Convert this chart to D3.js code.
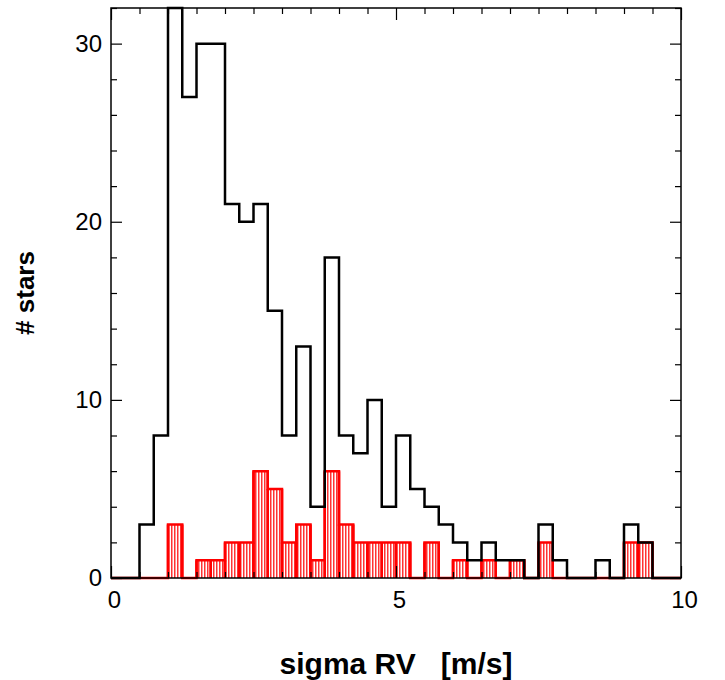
<!DOCTYPE html>
<html>
<head>
<meta charset="utf-8">
<script src="https://cdn.jsdelivr.net/npm/d3@7"></script>
<style>
  body { margin: 0; background: #fff; }
  text { font-family: "Liberation Sans", Arial, Helvetica, sans-serif; }
</style>
</head>
<body>
<script>
// bins of 0.25 m/s from 0 to 10
const binWidth = 0.25;
const binStarts = d3.range(0, 10, binWidth);
// all stars (black outline)
const allStars = [0,0,3,8,32,27,30,30,21,20,21,15,8,13,4,18,8,7,10,4,
                  8,5,4,3,2,1,2,1,1,0,3,1,0,0,1,0,3,2,0,0];
// sub-sample (red, hatched)
const subStars = [0,0,0,0,3,0,1,1,2,2,6,5,2,3,1,6,3,2,2,2,
                  2,0,2,0,1,0,1,0,1,0,2,0,0,0,0,0,2,2,0,0];
const xMajor = [0, 5, 10];
const yMajor = [0, 10, 20, 30];

const width = 725, height = 680;
const margin = {top: 8, right: 44, bottom: 102, left: 111};

const svg = d3.select("body").append("svg")
    .attr("width", width)
    .attr("height", height);

const x = d3.scaleLinear().domain([0, 10]).range([margin.left, width - margin.right]);
const y = d3.scaleLinear().domain([0, 32]).range([height - margin.bottom, margin.top]);

// hatch for red bars
const defs = svg.append("defs");
defs.append("pattern")
    .attr("id", "hatch")
    .attr("patternUnits", "userSpaceOnUse")
    .attr("width", 3)
    .attr("height", 10)
  .append("rect")
    .attr("width", 1.5)
    .attr("height", 10)
    .attr("fill", "#ff0000")
    .attr("opacity", 0.8);

// step line through the bins
function stepPath(vals) {
  const pts = [];
  vals.forEach((v, i) => {
    pts.push([x(binStarts[i]), y(v)]);
    pts.push([x(binStarts[i] + binWidth), y(v)]);
  });
  return d3.line()(pts);
}

const redBars = subStars.map((v, i) => ({x0: binStarts[i], v})).filter(d => d.v > 0);

// red filled bars
svg.append("g")
  .selectAll("rect")
  .data(redBars)
  .join("rect")
    .attr("x", d => x(d.x0))
    .attr("y", d => y(d.v))
    .attr("width", x(binWidth) - x(0))
    .attr("height", d => y(0) - y(d.v))
    .attr("fill", "url(#hatch)");

svg.append("path")
    .attr("d", stepPath(subStars))
    .attr("fill", "none")
    .attr("stroke", "#ff0000")
    .attr("stroke-width", 2.5);

// vertical edges of red bars down to zero
svg.append("g")
  .selectAll("path")
  .data(redBars)
  .join("path")
    .attr("d", d => `M${x(d.x0)},${y(0)}V${y(d.v)}M${x(d.x0 + binWidth)},${y(0)}V${y(d.v)}`)
    .attr("stroke", "#ff0000")
    .attr("stroke-width", 2.5)
    .attr("fill", "none");

svg.append("path")
    .attr("d", stepPath(allStars))
    .attr("fill", "none")
    .attr("stroke", "#000")
    .attr("stroke-width", 2.5);

// frame and ticks on all four sides, pointing inward
const xMinor = d3.range(0, 10.01, 0.5).filter(v => !xMajor.includes(v));
const yMinor = d3.range(0, 32.01, 2).filter(v => !yMajor.includes(v));

function addAxis(axis, transform) {
  const g = svg.append("g").attr("transform", transform).call(axis);
  g.select(".domain").remove();
  g.selectAll("line").attr("stroke", "#000").attr("stroke-width", 1.2);
  return g;
}

const bottomY = y(0), topY = y(32), leftX = x(0), rightX = x(10);

addAxis(d3.axisBottom(x).tickValues(xMinor).tickSize(-6).tickFormat(""), `translate(0,${bottomY})`);
addAxis(d3.axisTop(x).tickValues(xMinor).tickSize(-6).tickFormat(""), `translate(0,${topY})`);
addAxis(d3.axisTop(x).tickValues(xMajor).tickSize(-12).tickFormat(""), `translate(0,${topY})`);
const xAx = addAxis(d3.axisBottom(x).tickValues(xMajor).tickSize(-12).tickPadding(13).tickFormat(d3.format("d")),
    `translate(0,${bottomY})`);
xAx.selectAll("text").attr("font-size", 24).attr("fill", "#000").attr("dx", 3)
    .attr("font-family", "'Liberation Sans', Arial, Helvetica, sans-serif");

addAxis(d3.axisLeft(y).tickValues(yMinor).tickSize(-6).tickFormat(""), `translate(${leftX},0)`);
addAxis(d3.axisRight(y).tickValues(yMinor).tickSize(-6).tickFormat(""), `translate(${rightX},0)`);
addAxis(d3.axisRight(y).tickValues(yMajor).tickSize(-11).tickFormat(""), `translate(${rightX},0)`);
const yAx = addAxis(d3.axisLeft(y).tickValues(yMajor).tickSize(-11).tickPadding(9).tickFormat(d3.format("d")),
    `translate(${leftX},0)`);
yAx.selectAll("text").attr("font-size", 24).attr("fill", "#000")
    .attr("font-family", "'Liberation Sans', Arial, Helvetica, sans-serif");

svg.append("rect")
    .attr("x", leftX)
    .attr("y", topY)
    .attr("width", rightX - leftX)
    .attr("height", bottomY - topY)
    .attr("fill", "none")
    .attr("stroke", "#000")
    .attr("stroke-width", 1.5);

// axis titles
svg.append("text")
    .attr("x", (leftX + rightX) / 2)
    .attr("y", 674)
    .attr("text-anchor", "middle")
    .attr("font-size", 30)
    .attr("font-weight", "bold")
    .style("white-space", "pre")
    .text("sigma RV   [m/s]");

svg.append("text")
    .attr("transform", `translate(34,${(topY + bottomY) / 2}) rotate(-90)`)
    .attr("text-anchor", "middle")
    .attr("font-size", 26)
    .attr("font-weight", "bold")
    .text("# stars");
</script>
</body>
</html>
